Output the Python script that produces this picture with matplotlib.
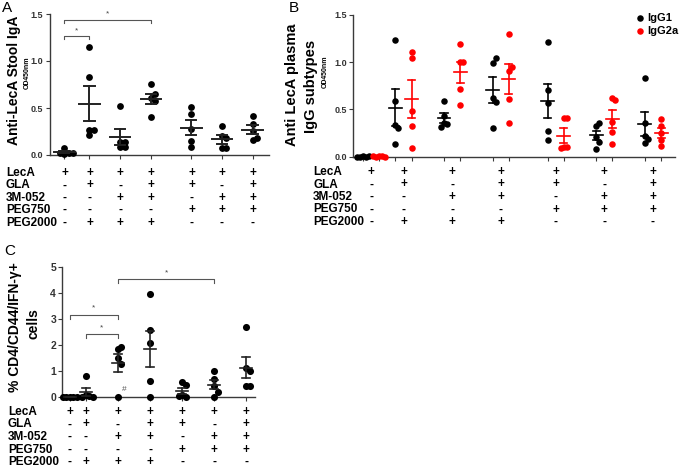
import numpy as np
import matplotlib
matplotlib.use('Agg')
import matplotlib.pyplot as plt
from matplotlib.transforms import blended_transform_factory

plt.rcParams['font.family'] = ['Liberation Sans', 'DejaVu Sans']

# formulation table (same for all panels)
row_names = ['LecA', 'GLA', '3M-052', 'PEG750', 'PEG2000']
groups = ['+----', '++--+', '+-+-+', '+++-+', '++-+-', '+-++-', '++++-']

# panel A: anti-LecA stool IgA (OD450nm)
iga = [[0.07, 0.02, 0.02, 0.01, 0.02],
       [1.15, 0.83, 0.27, 0.21, 0.27],
       [0.52, 0.14, 0.14, 0.08, 0.08],
       [0.75, 0.61, 0.65, 0.57, 0.40],
       [0.51, 0.44, 0.28, 0.15, 0.08],
       [0.31, 0.20, 0.18, 0.07, 0.07],
       [0.42, 0.33, 0.26, 0.16, 0.18]]

# panel B: plasma IgG subtypes (OD450nm)
igg1 = [[0.01, 0.0, 0.0, 0.01, 0.0],
        [1.24, 0.59, 0.34, 0.30, 0.13],
        [0.59, 0.43, 0.36, 0.35, 0.31],
        [0.99, 1.04, 0.62, 0.58, 0.30],
        [1.21, 0.71, 0.57, 0.27, 0.18],
        [0.32, 0.36, 0.21, 0.16, 0.08],
        [0.83, 0.36, 0.22, 0.19, 0.14]]
igg2a = [[0.01, 0.01, 0.0, 0.0, 0.01],
         [1.11, 1.04, 0.48, 0.33, 0.09],
         [1.19, 1.00, 1.00, 0.72, 0.55],
         [1.30, 0.91, 0.95, 0.61, 0.36],
         [0.41, 0.41, 0.10, 0.10, 0.09],
         [0.62, 0.60, 0.37, 0.26, 0.13],
         [0.40, 0.33, 0.25, 0.18, 0.11]]

# panel C: % CD4/CD44/IFN-g+ cells
ifng = [[0, 0, 0, 0, 0],
        [0.80, 0.05, 0.02, 0.0, 0.0],
        [1.84, 1.92, 1.48, 1.28, 0.0],
        [3.95, 2.58, 2.06, 0.60, 0.0],
        [0.58, 0.45, 0.05, 0.0, 0.02],
        [1.00, 0.68, 0.40, 0.20, 0.0],
        [2.70, 1.10, 1.00, 0.41, 0.41]]

# layout
pos_a = [0, 0.82, 1.83, 2.83, 4.16, 5.16, 6.16]
pos_b = [0.55, 1.55, 3.05, 4.55, 6.25, 7.75, 9.25]
pos_c = [0, 0.5, 1.5, 2.5, 3.5, 4.5, 5.5]

W, H = 680, 469
fig = plt.figure(figsize=(6.8, 4.69), dpi=100)


def frac(l, t, r, b):
    return [l / W, 1 - b / H, (r - l) / W, (b - t) / H]


axA = fig.add_axes(frac(49.5, 14, 269, 155))
axB = fig.add_axes(frac(353.3, 15, 675, 156.7))
axC = fig.add_axes(frac(62.3, 267.3, 255, 396.7))

GREY = '#3a3a3a'


def style(ax, yticks, fmt, fs=6.5):
    for s in ['top', 'right']:
        ax.spines[s].set_visible(False)
    for s in ['left', 'bottom']:
        ax.spines[s].set_color(GREY)
        ax.spines[s].set_linewidth(1.0)
    ax.set_yticks(yticks)
    ax.set_yticklabels([fmt.format(v) for v in yticks], fontsize=fs,
                       fontweight='bold', color='#333333')
    ax.tick_params(axis='y', length=3, width=0.8, color=GREY, pad=1.5)
    ax.tick_params(axis='x', length=3, width=0.8, color=GREY, labelbottom=False)
    ax.set_ylim(yticks[0], yticks[-1])


def swarm(vals, center, ppx, ppy, step=3.5, d=5.5):
    # GraphPad-like packing: points at similar heights are pushed sideways
    placed = []
    xs = []
    for v in vals:
        for k in [0, 1, -1, 2, -2, 3, -3, 4, -4]:
            px = k * step
            ok = all(abs(px - qx) >= step * 0.9 or abs(v - qv) * ppy >= d
                     for qx, qv in placed)
            if ok:
                break
        placed.append((px, v))
        xs.append(center + px / ppx)
    return np.array(xs)


def mean_sem(ax, x, vals, color, mw, cw, lw):
    m = np.mean(vals)
    s = np.std(vals, ddof=1) / np.sqrt(len(vals))
    kw = dict(color=color, lw=lw, zorder=4, clip_on=False)
    ax.plot([x - mw / 2, x + mw / 2], [m, m], **kw)
    ax.plot([x, x], [m - s, m + s], **kw)
    ax.plot([x - cw / 2, x + cw / 2], [m + s, m + s], **kw)
    ax.plot([x - cw / 2, x + cw / 2], [m - s, m - s], **kw)


def bracket(ax, x0, x1, y, leg, star_y, fs=6):
    ax.plot([x0, x0, x1, x1], [y - leg, y, y, y - leg], color='#555555',
            lw=0.8, clip_on=False)
    ax.text((x0 + x1) / 2, star_y, '*', ha='center', va='center', fontsize=fs,
            color='#444444')


def table(ax, positions, label_x, rows_y, fs=8.5):
    tr = blended_transform_factory(ax.transData, fig.transFigure)
    for i, name in enumerate(row_names):
        y = 1 - rows_y[i] / H
        fig.text(label_x / W, y, name, fontsize=fs, fontweight='bold',
                 ha='left', va='center')
        for x, g in zip(positions, groups):
            ax.text(x, y, g[i], transform=tr, fontsize=fs, fontweight='bold',
                    ha='center', va='center')


# ---- panel A
ppxA = (269 - 49.5) / 7.19
ppyA = 141 / 1.5
for x, vals in zip(pos_a, iga):
    xs = swarm(vals, x, ppxA, ppyA, step=4.5)
    axA.scatter(xs, vals, s=24, color='black', zorder=3, clip_on=False, lw=0)
    mean_sem(axA, x, vals, '#222222', 0.66, 0.33, 1.4)
axA.set_xlim(-0.49, 6.7)
style(axA, [0, 0.5, 1.0, 1.5], '{:.1f}')
axA.set_xticks(pos_a)
bracket(axA, pos_a[0], pos_a[1], 1.27, 0.04, 1.32)
bracket(axA, pos_a[0], pos_a[3], 1.44, 0.04, 1.50)
fig.text(14 / W, 1 - 80 / H, 'Anti-LecA Stool IgA', rotation=90, fontsize=10,
         fontweight='bold', ha='center', va='center')
fig.text(27 / W, 1 - 73 / H, 'OD450nm', rotation=90, fontsize=5,
         fontweight='bold', ha='center', va='center')
fig.text(2 / W, 1 - 8 / H, 'A', fontsize=11, ha='left', va='center')
table(axA, pos_a, 6, [173, 185.3, 197.7, 210, 222.5])

# ---- panel B
ppxB = 32.4
ppyB = 141.7 / 1.5
for i, x in enumerate(pos_b):
    xb = swarm(igg1[i], x - 0.25, ppxB, ppyB, step=3.0)
    xr = swarm(igg2a[i], x + 0.25, ppxB, ppyB, step=3.0)
    axB.scatter(xb, igg1[i], s=22, color='black', zorder=3, clip_on=False, lw=0,
                label='IgG1' if i == 0 else None)
    axB.scatter(xr, igg2a[i], s=22, color='#ff0000', zorder=3, clip_on=False, lw=0,
                label='IgG2a' if i == 0 else None)
    mean_sem(axB, x - 0.25, igg1[i], 'black', 0.4, 0.22, 1.2)
    mean_sem(axB, x + 0.25, igg2a[i], '#ff0000', 0.4, 0.22, 1.2)
axB.set_xlim(0, 9.93)
style(axB, [0, 0.5, 1.0, 1.5], '{:.1f}')
axB.set_xticks([p + d for p in pos_b for d in (-0.25, 0.25)])
axB.legend(loc='upper left', bbox_to_anchor=(637 / W, 1 - 13 / H),
           bbox_transform=fig.transFigure, frameon=False, handlelength=0.6,
           handletextpad=0.3, labelspacing=0.25, borderpad=0, borderaxespad=0,
           prop=dict(size=8, weight='bold'))
fig.text(292 / W, 1 - 85 / H, 'Anti LecA plasma', rotation=90, fontsize=10.5,
         fontweight='bold', ha='center', va='center')
fig.text(311 / W, 1 - 86 / H, 'IgG subtypes', rotation=90, fontsize=10.5,
         fontweight='bold', ha='center', va='center')
fig.text(325 / W, 1 - 72 / H, 'OD450nm', rotation=90, fontsize=5,
         fontweight='bold', ha='center', va='center')
fig.text(289 / W, 1 - 8 / H, 'B', fontsize=11, ha='left', va='center')
table(axB, pos_b, 313, [172, 184.5, 197, 209.5, 222])

# ---- panel C
ppxC = 32.0
ppyC = 129.4 / 5
for x, vals in zip(pos_c, ifng):
    xs = swarm(vals, x, ppxC, ppyC, step=3.5, d=6.0)
    axC.scatter(xs, vals, s=26, color='black', zorder=3, clip_on=False, lw=0)
    mean_sem(axC, x, vals, '#222222', 0.36, 0.24, 1.2)
axC.set_xlim(-0.24, 5.78)
style(axC, [0, 1, 2, 3, 4, 5], '{:d}', fs=7.5)
axC.set_xticks(pos_c)
bracket(axC, pos_c[0], pos_c[2], 3.16, 0.15, 3.45)
bracket(axC, pos_c[1], pos_c[2], 2.42, 0.15, 2.65)
bracket(axC, pos_c[2], pos_c[5], 4.55, 0.15, 4.8)
axC.text(pos_c[2] + 0.12, 0.28, '#', fontsize=6, color='#555555', ha='left',
         va='center')
fig.text(15 / W, 1 - 327 / H, '% CD4/CD44/IFN-\u03b3+', rotation=90, fontsize=10,
         fontweight='bold', ha='center', va='center')
fig.text(33 / W, 1 - 324 / H, 'cells', rotation=90, fontsize=10,
         fontweight='bold', ha='center', va='center')
fig.text(4 / W, 1 - 251 / H, 'C', fontsize=11, ha='left', va='center')
table(axC, pos_c, 8, [411.5, 424.3, 437, 449.5, 461.5])

fig.savefig('out.png', dpi=100)
